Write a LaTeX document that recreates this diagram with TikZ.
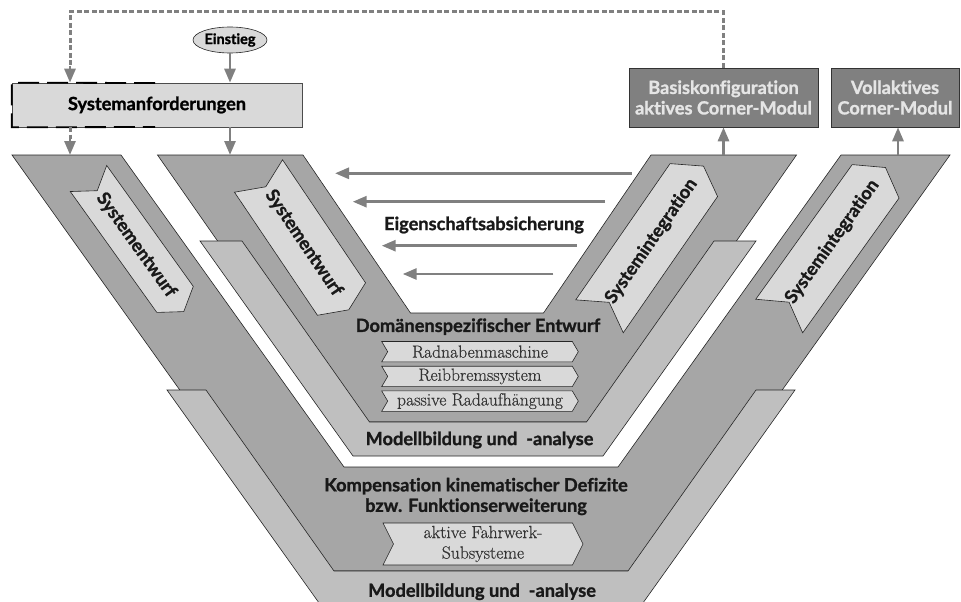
\documentclass[tikz,border=0pt]{standalone}
\usepackage{fontspec}
\newfontfamily\latofam{Lato}[Ligatures={NoCommon}, BoldFeatures={FakeBold=1.2}]
\newfontfamily\lmrfam{Latin Modern Roman}[FakeBold=0.5]
\usetikzlibrary{arrows.meta,shapes.geometric,calc}
\definecolor{vdark}{gray}{0.65}
\definecolor{vlight}{gray}{0.75}
\definecolor{boxfill}{gray}{0.85}
\definecolor{arrgray}{gray}{0.5}
\definecolor{darkbox}{gray}{0.5}
\definecolor{boxtext}{gray}{0.9}
\definecolor{seriftext}{gray}{0.2}
\newcommand\mylbfont{\latofam\bfseries\fontsize{18.2}{20.5}\selectfont}
\newcommand\mysrffont{\lmrfam\fontsize{17.6}{20.5}\selectfont}
\newcommand\sigshape[8]{%
  \begin{scope}[shift={(#2)}, rotate=#3]
    \draw[sig] (0,-#5) -- (#6,0) -- (0,#5) -- (#4,#5) -- ({#4+#6},0) -- (#4,-#5) -- cycle;
    \node[#8, rotate=#3] (#1) at ({(#4+#6)/2},0) {#7};
  \end{scope}}
\tikzset{
  vdarkband/.style={fill=vdark, draw=black!85, line width=0.6pt},
  vlightband/.style={fill=vlight, draw=black!85, line width=0.6pt},
  sig/.style={fill=boxfill, draw=black!85, line width=0.6pt},
  lbl/.style={font=\mylbfont, text=black!90, inner sep=0pt, align=center},
  srf/.style={font=\mysrffont, text=seriftext, inner sep=0pt, align=center},
  garrow/.style={draw=arrgray, line width=2.8pt, -{Triangle[length=14pt,width=11pt]}},
  gdash/.style={draw=arrgray, line cap=butt, dash pattern=on 5pt off 2.5pt, line width=3pt},
  darkbox/.style={rectangle, fill=darkbox, draw=black!80, line width=0.6pt, text=boxtext, font=\mylbfont, align=center, inner sep=0pt},
  sysbox/.style={rectangle, fill=boxfill, draw=black!70, line width=0.6pt, font=\mylbfont, inner sep=0pt},
  dashborder/.style={draw=black, line width=1.8pt, dash pattern=on 21pt off 8pt}
}
\begin{document}
\begin{tikzpicture}[x=1pt,y=-1pt]
\useasboundingbox (0,0) rectangle (961,602);
\clip (0,0) rectangle (961,602);

% outer V
\draw[vdarkband] (12,155) -- (121,155) -- (344,467) -- (618,467) -- (841,155) -- (950,155) -- (653,571) -- (309,571) -- cycle;
\draw[vlightband] (167,390) -- (206,390) -- (334,571) -- (628,571) -- (756,390) -- (795,390) -- (616.5,640) -- (345.5,640) -- cycle;
% inner V
\draw[vdarkband] (157.5,155) -- (303,155) -- (410.5,313) -- (543.5,313) -- (651,155) -- (796.5,155) -- (610,422) -- (344,422) -- cycle;
\draw[vlightband] (200,241) -- (242,241) -- (369.5,422) -- (586.5,422) -- (714,241) -- (756,241) -- (603,456) -- (353,456) -- cycle;

% phase arrows
\sigshape{entwurfA}{88.5,178.5}{-54.4}{148.7}{22.4}{15}{Systementwurf}{lbl}
\sigshape{entwurfB}{258.5,176}{-56}{148.4}{29}{13}{Systementwurf}{lbl}
\sigshape{integB}{599.5,316.3}{55.3}{165.7}{28.9}{17}{Systemintegration}{lbl}
\sigshape{integA}{779.2,316}{54.4}{165.6}{28.8}{17}{Systemintegration}{lbl}

% domain boxes
\node[lbl] (dom) at (478,326.7) {Domänenspezifischer Entwurf};
\sigshape{rnm}{381.7,351.7}{0}{190.6}{10.2}{6}{Radnabenmaschine}{srf}
\sigshape{rbs}{381.7,376.4}{0}{190.6}{10.2}{6}{Reibbremssystem}{srf}
\sigshape{pra}{381.7,401.1}{0}{190.6}{10.2}{6}{passive Radaufhängung}{srf}
\node[lbl] (mbi) at (479.5,440) {Modellbildung und~~-analyse};

\node[lbl] (komp) at (476,496.5) {Kompensation kinematischer Defizite\\bzw. Funktionserweiterung};
\sigshape{afs}{383,544}{0}{189.5}{21}{10.5}{aktive Fahrwerk-\\Subsysteme}{srf}
\node[lbl] (mbo) at (482,591.7) {Modellbildung und~~-analyse};

% Eigenschaftsabsicherung
\node[lbl] (eig) at (484,225) {Eigenschaftsabsicherung};
\coordinate (e1s) at (631.7,173.3); \coordinate (e1e) at (335,173.3);
\coordinate (e2s) at (605,201.7);   \coordinate (e2e) at (352.7,201.7);
\coordinate (e3s) at (576.7,245.7); \coordinate (e3e) at (381.7,245.7);
\coordinate (e4s) at (553.3,274);   \coordinate (e4e) at (402.7,274);
\draw[garrow] (e1s) -- (e1e);
\draw[garrow] (e2s) -- (e2e);
\draw[garrow] (e3s) -- (e3e);
\draw[garrow] (e4s) -- (e4e);

% top boxes
\node[sysbox, minimum width=290pt, minimum height=44pt] (sysanf) at (157,105) {Systemanforderungen};
\draw[dashborder] (155,83) -- (sysanf.north west) -- (sysanf.south west) -- (155,127);
\node[ellipse, draw=black!85, fill=boxfill, line width=0.6pt, minimum width=74pt, minimum height=26pt, inner sep=0pt, font=\latofam\bfseries\fontsize{14.5}{16}\selectfont] (einstieg) at (230,40) {Einstieg};
\node[darkbox, minimum width=189pt, minimum height=59pt] (basis) at (723.5,97.5) {Basiskonfiguration\\aktives Corner-Modul};
\node[darkbox, minimum width=128pt, minimum height=59pt] (voll) at (895,97.5) {Vollaktives\\Corner-Modul};

\coordinate (dashcorner) at (70,12);
\coordinate (dashend) at (70,66);
\coordinate (dashstart2) at (70,127);
\coordinate (dashend2) at (70,139);
\coordinate (vtopL) at (70,155);
\coordinate (vtopM) at (230,155);
\coordinate (vtopR) at (723.5,155);
\coordinate (vtopRR) at (898,155);
\draw[garrow] (einstieg) -- (sysanf.north -| einstieg);
\draw[garrow] (sysanf.south -| einstieg) -- (vtopM);
\draw[gdash] (basis.north) |- (dashcorner) -- (dashend);
\draw[garrow] (dashend) -- (sysanf.north -| dashcorner);
\draw[gdash] (dashstart2) -- (dashend2);
\draw[garrow] (dashend2) -- (vtopL);
\draw[garrow] (vtopR) -- (basis.south);
\draw[garrow] (vtopRR) -- (voll.south -| vtopRR);
\end{tikzpicture}
\end{document}
